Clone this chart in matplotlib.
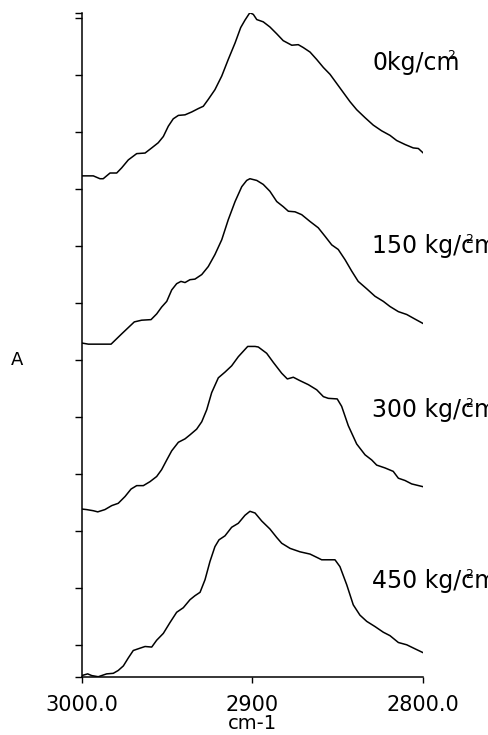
import matplotlib
matplotlib.use("Agg")
import matplotlib.pyplot as plt

# spectra (wavenumber cm-1, absorbance in stacked plot units)
wn_0 = [3000, 2993.2, 2989.3, 2987.4, 2983.4, 2979.5, 2976.6, 2972.7, 2967.8, 2962.9,
        2959.0, 2955.2, 2952.2, 2949.3, 2946.4, 2943.4, 2939.5, 2935.6, 2931.7, 2928.8,
        2925.9, 2922.0, 2918.0, 2914.2, 2910.2, 2906.9, 2904.4, 2902.0, 2901.5, 2899.5,
        2897.5, 2893.7, 2889.8, 2885.8, 2882.0, 2877.0, 2873.2, 2870.3, 2866.3, 2862.4,
        2858.5, 2854.6, 2850.7, 2846.8, 2842.9, 2839.0, 2834.1, 2829.3, 2824.4, 2819.5,
        2815.6, 2810.7, 2805.9, 2802.9, 2800]
a_0 = [0.879, 0.879, 0.874, 0.874, 0.884, 0.884, 0.893, 0.907, 0.918, 0.919,
       0.928, 0.937, 0.948, 0.966, 0.979, 0.985, 0.986, 0.991, 0.997, 1.001,
       1.013, 1.030, 1.054, 1.083, 1.112, 1.139, 1.152, 1.163, 1.165, 1.162,
       1.153, 1.149, 1.140, 1.128, 1.116, 1.108, 1.109, 1.104, 1.096, 1.083,
       1.069, 1.057, 1.041, 1.025, 1.009, 0.995, 0.981, 0.968, 0.958, 0.950,
       0.941, 0.934, 0.928, 0.927, 0.919]

wn_150 = [3000, 2996.1, 2982.8, 2976.6, 2969.2, 2964.9, 2959.4, 2956.1, 2953.2, 2950.2,
          2947.3, 2944.4, 2941.9, 2939.5, 2936.6, 2933.7, 2929.7, 2925.9, 2922.0, 2918.0,
          2914.2, 2910.2, 2906.3, 2903.4, 2901.5, 2897.5, 2893.7, 2889.8, 2885.8, 2882.0,
          2879.0, 2875.1, 2871.2, 2866.3, 2861.5, 2857.5, 2853.6, 2849.8, 2845.8, 2841.9,
          2838.1, 2833.1, 2828.3, 2823.4, 2819.5, 2814.6, 2809.7, 2804.9, 2800]
a_150 = [0.586, 0.584, 0.584, 0.602, 0.623, 0.626, 0.627, 0.637, 0.649, 0.659,
         0.679, 0.690, 0.694, 0.692, 0.697, 0.698, 0.706, 0.720, 0.741, 0.767,
         0.802, 0.834, 0.860, 0.871, 0.874, 0.871, 0.864, 0.852, 0.834, 0.825,
         0.817, 0.816, 0.811, 0.799, 0.788, 0.773, 0.758, 0.750, 0.732, 0.712,
         0.694, 0.681, 0.668, 0.659, 0.650, 0.641, 0.636, 0.628, 0.620]

wn_300 = [3000, 2997.1, 2993.2, 2990.6, 2986.4, 2982.4, 2978.6, 2974.6, 2971.1, 2967.8,
          2963.9, 2960.0, 2956.1, 2953.2, 2950.2, 2947.3, 2943.4, 2939.5, 2936.6, 2932.7,
          2929.7, 2926.8, 2923.9, 2920.0, 2916.1, 2912.2, 2908.3, 2902.8, 2898.5, 2896.6,
          2891.7, 2887.8, 2882.9, 2879.6, 2876.1, 2872.2, 2867.3, 2862.4, 2858.5, 2855.6,
          2850.4, 2847.8, 2843.9, 2839.0, 2834.1, 2830.2, 2827.3, 2822.4, 2817.6, 2814.6,
          2810.7, 2806.8, 2800]
a_300 = [0.295, 0.294, 0.292, 0.290, 0.294, 0.301, 0.305, 0.317, 0.330, 0.336,
         0.336, 0.343, 0.352, 0.364, 0.381, 0.397, 0.412, 0.418, 0.425, 0.435,
         0.448, 0.469, 0.499, 0.525, 0.535, 0.546, 0.562, 0.580, 0.580, 0.579,
         0.568, 0.552, 0.533, 0.523, 0.526, 0.520, 0.513, 0.504, 0.492, 0.489,
         0.488, 0.475, 0.441, 0.409, 0.390, 0.381, 0.372, 0.367, 0.361, 0.349,
         0.345, 0.339, 0.334]

wn_450 = [3000, 2996.5, 2994.1, 2990.3, 2985.4, 2981.5, 2978.6, 2975.6, 2972.7, 2969.8,
          2965.9, 2962.9, 2959.0, 2956.1, 2952.2, 2948.3, 2944.4, 2940.5, 2936.6, 2933.7,
          2930.7, 2927.8, 2924.9, 2922.0, 2919.6, 2916.1, 2912.2, 2908.3, 2904.4, 2901.5,
          2898.5, 2894.6, 2889.8, 2885.8, 2882.9, 2878.0, 2872.2, 2866.3, 2861.5, 2859.5,
          2851.7, 2848.8, 2844.8, 2841.0, 2837.1, 2833.1, 2828.3, 2823.4, 2819.5, 2814.6,
          2809.7, 2804.9, 2800]
a_450 = [0.003, 0.006, 0.003, 0.001, 0.006, 0.007, 0.012, 0.020, 0.034, 0.047,
         0.051, 0.054, 0.053, 0.065, 0.077, 0.096, 0.114, 0.122, 0.136, 0.143,
         0.149, 0.171, 0.203, 0.229, 0.241, 0.248, 0.263, 0.270, 0.284, 0.291,
         0.288, 0.274, 0.260, 0.245, 0.235, 0.226, 0.220, 0.216, 0.209, 0.206,
         0.206, 0.194, 0.162, 0.127, 0.109, 0.098, 0.089, 0.079, 0.073, 0.061,
         0.057, 0.050, 0.043]

labels = ["0kg/cm", "150 kg/cm", "300 kg/cm", "450 kg/cm"]
label_y = [1.064, 0.743, 0.456, 0.156]
# the superscript "2" sits over the unit, as in the original export
sup_x = [2786.1, 2775.6, 2775.6, 2775.6]
sup_y = [1.083, 0.762, 0.474, 0.174]

ytick_pos = [0.0] + [0.056 + 0.1 * k for k in range(12)] + [1.165]

fig = plt.figure(figsize=(4.88, 7.35), dpi=100)
ax = fig.add_axes([0.1674, 0.0785, 0.700, 0.9042])

for wn, a in [(wn_0, a_0), (wn_150, a_150), (wn_300, a_300), (wn_450, a_450)]:
    ax.plot(wn, a, color="black", lw=1.1)

for lab, ly, sx, sy in zip(labels, label_y, sup_x, sup_y):
    ax.text(2830, ly, lab, fontsize=17, va="baseline", ha="left", clip_on=False)
    ax.text(sx, sy, "2", fontsize=9, va="baseline", ha="left", clip_on=False)

ax.set_xlim(3000, 2800)
ax.set_ylim(0, 1.165)
ax.set_xticks([3000, 2900, 2800])
ax.set_xticklabels(["3000.0", "2900", "2800.0"], fontsize=15)
ax.set_yticks(ytick_pos)
ax.set_yticklabels([])
ax.tick_params(axis="x", direction="out", length=4, width=1, pad=9)
ax.tick_params(axis="y", direction="out", length=5, width=1)

ax.set_xlabel("cm-1", fontsize=14, labelpad=-1)
ax.set_ylabel("A", fontsize=13, rotation=0, ha="center", va="center")
ax.yaxis.set_label_coords(-0.188, 0.477)

for s in ["top", "right"]:
    ax.spines[s].set_visible(False)
for s in ["left", "bottom"]:
    ax.spines[s].set_linewidth(1.1)

fig.savefig("out.png", dpi=100)
